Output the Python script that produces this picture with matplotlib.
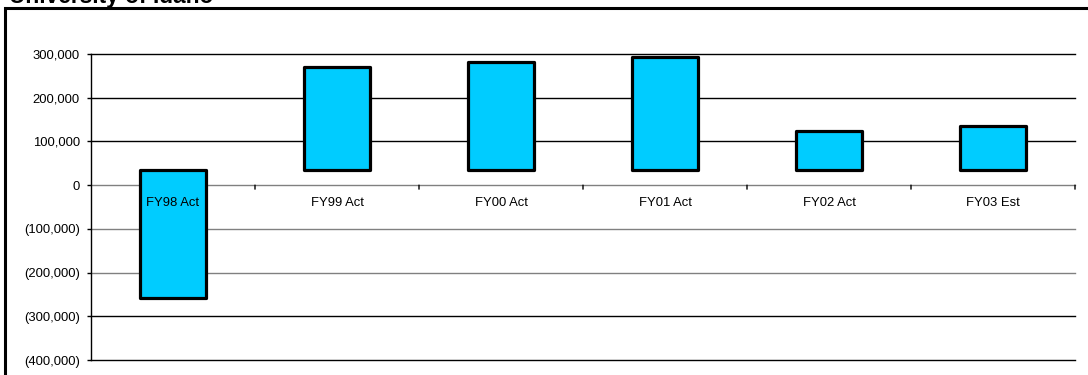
import numpy as np
import matplotlib.pyplot as plt
from matplotlib.patches import Rectangle

plt.rcParams['font.family'] = ['Liberation Sans', 'DejaVu Sans']

# floating bars: each one runs from a common start level to the year's value
categories = ['FY98 Act', 'FY99 Act', 'FY00 Act', 'FY01 Act', 'FY02 Act', 'FY03 Est']
start_level = [35000, 35000, 35000, 35000, 35000, 35000]
end_level = [-259000, 271000, 281000, 292000, 124000, 136000]

y_ticks = [300000, 200000, 100000, 0, -100000, -200000, -300000, -400000]
y_labels = ['300,000', '200,000', '100,000', '0', '(100,000)', '(200,000)',
            '(300,000)', '(400,000)']

fig = plt.figure(figsize=(10.88, 3.75), dpi=100)
ax = fig.add_axes([91 / 1088, 1 - 360 / 375, 984 / 1088, 306 / 375])

x = np.arange(len(categories))
start = np.array(start_level)
end = np.array(end_level)
ax.bar(x, end - start, bottom=start, width=0.4, color='#00CCFF',
       edgecolor='black', linewidth=2.3, joinstyle='round', zorder=3)

ax.set_xlim(-0.5, len(categories) - 0.5)
ax.set_ylim(y_ticks[-1], y_ticks[0])

# horizontal gridlines, the band around zero is drawn in grey
for v in y_ticks:
    col = '#808080' if -200000 <= v <= 0 else 'black'
    ax.axhline(v, color=col, linewidth=1.0, zorder=1, clip_on=False)

for s in ['top', 'right', 'bottom']:
    ax.spines[s].set_visible(False)
ax.spines['left'].set_linewidth(1.0)

ax.set_yticks(y_ticks)
ax.set_yticklabels(y_labels)
ax.tick_params(axis='y', length=3, width=1, pad=5, labelsize=9.4)

# category boundary ticks hanging off the zero line
ax.set_xticks([])
for b in np.arange(1, len(categories) + 1) - 0.5:
    ax.annotate('', xy=(b, 0), xycoords='data', xytext=(0, -4),
                textcoords='offset pixels',
                arrowprops=dict(arrowstyle='-', color='black', lw=1,
                                shrinkA=0, shrinkB=0))

for i, name in enumerate(categories):
    ax.annotate(name, xy=(i, 0), xytext=(0, -12), textcoords='offset pixels',
                ha='center', va='top', fontsize=9.4, zorder=5)

# outer chart frame, running off the right and bottom edges
fig.patches.append(Rectangle((5 / 1088, -0.1), 1.2, 1 - 8 / 375 + 0.1,
                             transform=fig.transFigure, fill=False,
                             edgecolor='black', linewidth=2.2))

fig.text(9 / 1088, 1 - 3.5 / 375, 'University of Idaho', fontsize=16.4,
         fontweight='bold', ha='left', va='baseline')

fig.savefig('out.png', dpi=100)
